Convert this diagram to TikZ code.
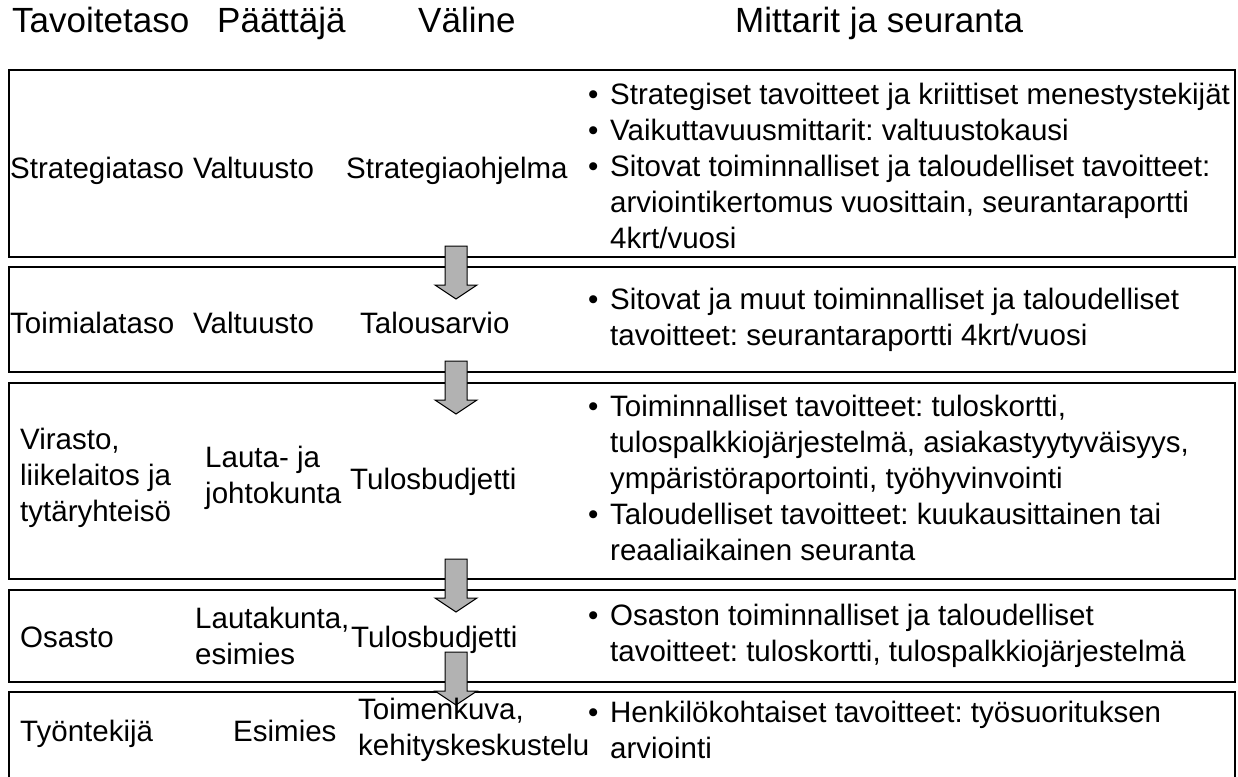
\documentclass[tikz,border=0pt]{standalone}
\usepackage{fontspec}
\setmainfont{Liberation Sans}
\usetikzlibrary{positioning}

\newcommand{\dotitem}{\makebox[22pt][l]{\textbullet}}
\newcommand{\dotgap}{\hspace*{22pt}}

\begin{document}
\frenchspacing
\begin{tikzpicture}[x=1pt,y=-1pt,
      every node/.style={inner sep=0pt,anchor=west},
      head/.style={font=\fontsize{35}{42}\selectfont,anchor=base west},
      txt/.style={font=\fontsize{29.5}{36.2}\selectfont,align=left},
      one/.style={txt,anchor=base west},
      levelbox/.style={draw=black,line width=1.6pt},
      downarrow/.style={draw=black,line width=1pt,fill=black!30}]
      \useasboundingbox (0,0) rectangle (1238,776);
      % headings
      \node[head] (tavoite) at (12,33) {Tavoitetaso};
      \node[head] (paattaja) at (217,33) {Päättäjä};
      \node[head] (valine) at (418,33) {Väline};
      \node[head] (mittarit) at (735,33) {Mittarit ja seuranta};
      % boxes
      \draw[levelbox] (9,70) rectangle (1235,257);
      \draw[levelbox] (9,267) rectangle (1235,372);
      \draw[levelbox] (9,383) rectangle (1235,579);
      \draw[levelbox] (9,590) rectangle (1235,682);
      \draw[levelbox] (9,692) rectangle (1235,800);
      % arrows
      \foreach \top in {246,361,559,652}{
        \draw[downarrow] (445,\top) -- (467,\top) -- (467,\top+39) -- (477,\top+39)
          -- (456,\top+53) -- (435,\top+39) -- (445,\top+39) -- cycle;
      }
      % level 1
      \node[one] (taso1) at (10,178) {Strategiataso};
      \node[one] (pt1) at (193,178) {Valtuusto};
      \node[one] (va1) at (346,178) {Strategiaohjelma};
      \node[txt] (mi1) at (588,166) {\dotitem Strategiset tavoitteet ja kriittiset menestystekijät\\
        \dotitem Vaikuttavuusmittarit: valtuustokausi\\
        \dotitem Sitovat toiminnalliset ja taloudelliset tavoitteet:\\
        \dotgap arviointikertomus vuosittain, seurantaraportti\\
        \dotgap 4krt/vuosi};
      % level 2
      \node[one] (taso2) at (10,333) {Toimialataso};
      \node[one] (pt2) at (193,333) {Valtuusto};
      \node[one] (va2) at (360,333) {Talousarvio};
      \node[txt] (mi2) at (588,320) {\dotitem Sitovat ja muut toiminnalliset ja taloudelliset\\
        \dotgap tavoitteet: seurantaraportti 4krt/vuosi};
      % level 3
      \node[txt] (taso3) at (20,478) {Virasto,\\liikelaitos ja\\tytäryhteisö};
      \node[txt] (pt3) at (205,478) {Lauta- ja\\johtokunta};
      \node[one] (va3) at (350,489) {Tulosbudjetti};
      \node[txt] (mi3) at (588,478) {\dotitem Toiminnalliset tavoitteet: tuloskortti,\\
        \dotgap tulospalkkiojärjestelmä, asiakastyytyväisyys,\\
        \dotgap ympäristöraportointi, työhyvinvointi\\
        \dotitem Taloudelliset tavoitteet: kuukausittainen tai\\
        \dotgap reaaliaikainen seuranta};
      % level 4
      \node[one] (taso4) at (20,647) {Osasto};
      \node[txt] (pt4) at (195,636) {Lautakunta,\\esimies};
      \node[one] (va4) at (351,647) {Tulosbudjetti};
      \node[txt] (mi4) at (588,636) {\dotitem Osaston toiminnalliset ja taloudelliset\\
        \dotgap tavoitteet: tuloskortti, tulospalkkiojärjestelmä};
      % level 5
      \node[one] (taso5) at (20,741) {Työntekijä};
      \node[one] (pt5) at (233,741) {Esimies};
      \node[txt] (va5) at (358,730) {Toimenkuva,\\kehityskeskustelu};
      \node[txt] (mi5) at (588,730) {\dotitem Henkilökohtaiset tavoitteet: työsuorituksen\\
        \dotgap arviointi};
\end{tikzpicture}
\end{document}
